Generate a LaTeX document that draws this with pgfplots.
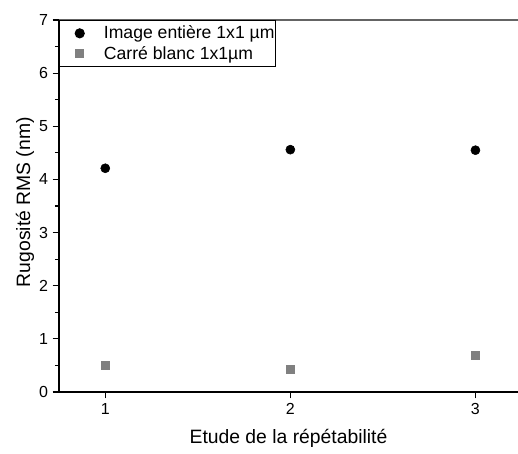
\documentclass[border=0pt]{standalone}
\usepackage{pgfplots}
\pgfplotsset{compat=1.18}
\usepackage{fontspec}
\setmainfont{Liberation Sans}
\definecolor{sqgray}{RGB}{128,128,128}
\definecolor{topgray}{RGB}{100,100,100}
\begin{document}
\begin{tikzpicture}
\begin{axis}[
  name=ax,
  scale only axis,
  width=344.25pt, height=279pt,
  xmin=0.75, xmax=3.23, ymin=0, ymax=7,
  axis x line*=bottom, axis y line*=left,
  axis line style={black, line width=0.8pt},
  xtick={1,2,3}, ytick={0,1,...,7},
  minor y tick num=1,
  tick align=outside,
  major tick length=4.75pt, minor tick length=3pt,
  tick style={black, line width=0.8pt},
  /pgf/number format/assume math mode=true,
  tick label style={font=\fontsize{12}{14}\selectfont},
  xlabel={Etude de la répétabilité},
  ylabel={Rugosité RMS (nm)},
  every axis x label/.style={at={(axis description cs:0.5,-0.1237)}, anchor=center,
    font=\fontsize{14.5}{16}\selectfont},
  every axis y label/.style={at={(axis description cs:-0.074,0.51)}, anchor=center, rotate=90,
    font=\fontsize{14.5}{16}\selectfont},
  legend style={at={(axis description cs:0,1)}, anchor=north west,
    draw=black, line width=0.8pt, font=\fontsize{13.2}{15}\selectfont,
    inner xsep=0pt, inner ysep=2pt, row sep=0pt,
    nodes={inner xsep=1pt},
    /tikz/every odd column/.append style={column sep=3.5pt}},
  legend cell align=left,
  legend image code/.code={%
    \path (0pt,0pt) (28pt,0pt);
    \draw[#1, only marks] plot coordinates {(14.75pt,0pt)};},
  clip=false,
]
\draw[topgray, line width=1.2pt] (rel axis cs:0,1) -- (rel axis cs:1,1);
\addplot[only marks, mark=*, mark size=3.4pt, mark options={fill=black, draw=black}]
  coordinates {(1,4.21) (2,4.56) (3,4.55)};
\addlegendentry{Image entière 1x1 µm}
\addplot[only marks, mark=square*, mark size=3pt, mark options={fill=sqgray, draw=sqgray}]
  coordinates {(1,0.50) (2,0.43) (3,0.70)};
\addlegendentry{Carré blanc 1x1µm}
\end{axis}
\pgfresetboundingbox
\path ([shift={(-44.25pt,-46.5pt)}]ax.south west) rectangle ([shift={(0pt,15pt)}]ax.north east);
\end{tikzpicture}
\end{document}
